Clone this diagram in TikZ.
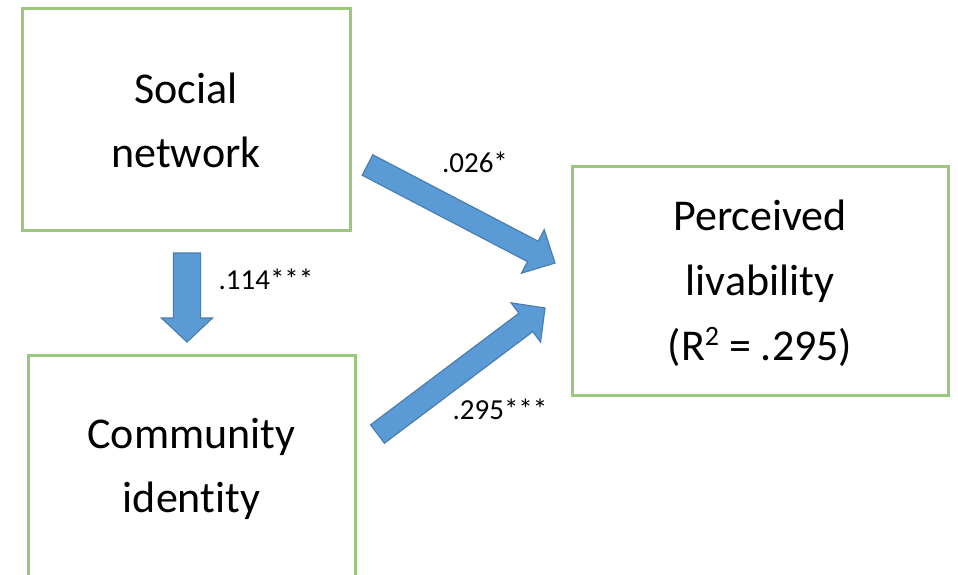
\documentclass[tikz,border=0pt]{standalone}
\usepackage{fontspec}
\setmainfont[Ligatures={NoCommon,NoContextual,NoRequired},RawFeature={-calt}]{Carlito}
\usetikzlibrary{calc}
\definecolor{boxgreen}{HTML}{9BC97B}
\definecolor{arrowfill}{HTML}{5B9BD5}
\definecolor{arrowedge}{HTML}{4A7EB0}
\tikzset{
  varbox/.style={draw=boxgreen, line width=3pt, fill=white, align=center,
    font=\fontsize{44}{64}\selectfont, inner sep=0pt},
  coef/.style={font=\fontsize{29}{34}\selectfont, inner sep=0pt},
  blockarrow/.style={draw=arrowedge, fill=arrowfill, line width=1.2pt, line join=miter}
}
% #1 tail, #2 tip, #3 shaft half width, #4 head half width, #5 head length
\newcommand{\blockarr}[5]{%
  \coordinate (hb) at ($(#2)!#5!(#1)$);
  \draw[blockarrow] ($(#1)!#3!90:(#2)$) -- ($(hb)!#3!90:(#2)$) -- ($(hb)!#4!90:(#2)$)
    -- (#2) -- ($(hb)!#4!-90:(#2)$) -- ($(hb)!#3!-90:(#2)$) -- ($(#1)!#3!-90:(#2)$) -- cycle;
}
\newcommand{\supnum}[1]{\raisebox{15pt}{\fontsize{28}{30}\selectfont #1}}
\newcommand{\tops}[1]{\rule{0pt}{#1}}
\newcommand{\bots}[1]{\rule[-#1]{0pt}{#1}}
\begin{document}
\begin{tikzpicture}[x=1pt,y=-1pt]
\useasboundingbox (0,0) rectangle (958,574);
\clip (0,0) rectangle (958,574);
\fill[white] (0,0) rectangle (958,574);
\node[varbox, minimum width=328pt, minimum height=222pt] (sn) at (186,119)
  {\tops{33pt}Social\\network};
\node[varbox, minimum width=327pt, minimum height=225pt, font=\fontsize{44}{64}\selectfont] (ci) at (191.5,467.5)
  {\tops{39pt}Community\\identity\bots{13pt}};
\node[varbox, minimum width=376pt, minimum height=229pt, font=\fontsize{44}{65}\selectfont] (pl) at (760,280.5)
  {\tops{43pt}Perceived\\livability\\(R\supnum{2} = .295)\bots{14pt}};
\coordinate (a1s) at (367.5,165);
\coordinate (a1e) at (555,263);
\coordinate (a2s) at (377.5,434);
\coordinate (a2e) at (545,308);
\coordinate (a3s) at (187,253);
\coordinate (a3e) at (187,342);
\blockarr{a1s}{a1e}{11.5pt}{24.5pt}{25pt}
\blockarr{a2s}{a2e}{11.5pt}{24.5pt}{24pt}
\blockarr{a3s}{a3e}{13.5pt}{25.5pt}{24pt}
\node[coef] (l1) at (475,162) {.026*};
\node[coef] (l2) at (266,279) {.114***};
\node[coef] (l3) at (500,409) {.295***};
\end{tikzpicture}
\end{document}
